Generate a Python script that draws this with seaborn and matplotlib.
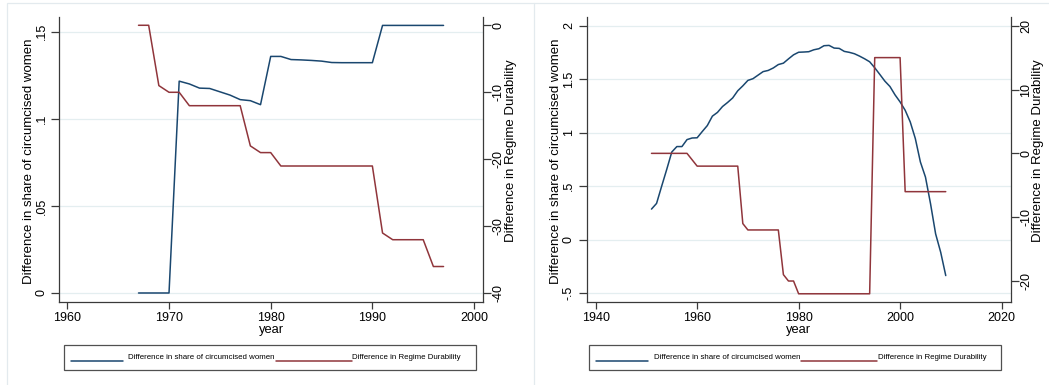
import matplotlib
matplotlib.use("Agg")
import matplotlib.pyplot as plt
import seaborn as sns
import pandas as pd
from matplotlib.patches import Rectangle
from matplotlib.lines import Line2D

# ---------------- data ----------------
years_left = list(range(1967, 1998))
share_left = [0.0, 0.0, 0.0, 0.0, 0.1216, 0.1200, 0.1176, 0.1174, 0.1155, 0.1136,
              0.1110, 0.1104, 0.1081, 0.1358, 0.1358, 0.1340, 0.1338, 0.1335, 0.1331,
              0.1323, 0.1322, 0.1322, 0.1322, 0.1322, 0.1536, 0.1536, 0.1536, 0.1536,
              0.1536, 0.1536, 0.1536]
durab_left = [0, 0, -9, -10, -10, -12, -12, -12, -12, -12, -12, -18, -19, -19, -21,
              -21, -21, -21, -21, -21, -21, -21, -21, -21, -31, -32, -32, -32, -32,
              -36, -36]

years_right = list(range(1951, 2010))
share_right = [0.287, 0.340, 0.500, 0.657, 0.820, 0.871, 0.871, 0.936, 0.951, 0.953,
               1.011, 1.067, 1.155, 1.190, 1.245, 1.283, 1.325, 1.392, 1.438, 1.489,
               1.505, 1.538, 1.571, 1.582, 1.605, 1.637, 1.650, 1.690, 1.728, 1.752,
               1.754, 1.757, 1.775, 1.785, 1.813, 1.816, 1.791, 1.788, 1.760, 1.751,
               1.738, 1.716, 1.691, 1.663, 1.607, 1.545, 1.482, 1.432, 1.354, 1.288,
               1.210, 1.101, 0.946, 0.727, 0.586, 0.337, 0.056, -0.116, -0.334]
durab_right = [0, 0, 0, 0, 0, 0, 0, 0, -1, -2, -2, -2, -2, -2, -2, -2, -2, -2, -11,
               -12, -12, -12, -12, -12, -12, -12, -19, -20, -20, -22, -22, -22, -22,
               -22, -22, -22, -22, -22, -22, -22, -22, -22, -22, -22, 15, 15, 15, 15,
               15, 15, -6, -6, -6, -6, -6, -6, -6, -6, -6]

left_yticks = [0, 0.05, 0.1, 0.15]
left_ylabels = ["0", ".05", ".1", ".15"]
left_y2ticks = [-40, -30, -20, -10, 0]
left_xticks = [1960, 1970, 1980, 1990, 2000]

right_yticks = [-0.5, 0, 0.5, 1, 1.5, 2]
right_ylabels = ["-.5", "0", ".5", "1", "1.5", "2"]
right_y2ticks = [-20, -10, 0, 10, 20]
right_xticks = [1940, 1960, 1980, 2000, 2020]

label_share = "Difference in share of circumcised women"
label_durab = "Difference in Regime Durability"
label_x = "year"

# ---------------- style ----------------
sns.set_theme(style="ticks")
plt.rcParams["font.family"] = ["Liberation Sans", "DejaVu Sans"]
BLUE = "#1a476f"
RED = "#90353b"
AXC = "#3a3a3a"
GRID = "#e4eef0"

W, H = 1049, 385
fig = plt.figure(figsize=(W / 100, H / 100), dpi=100)
fig.patch.set_facecolor("white")


def fx(x):
    return x / W


def fy(y):
    return 1 - y / H


# panel borders (graph combine look)
fig.add_artist(Rectangle((fx(7), fy(400)), fx(534) - fx(7), fy(3.3) - fy(400),
                         transform=fig.transFigure, fill=False, ec="#e3eaee", lw=0.9))
fig.add_artist(Line2D([fx(534), fx(1049)], [fy(3.3), fy(3.3)],
                      transform=fig.transFigure, color="#e3eaee", lw=0.9))


def make_panel(rect, years, share, durab, xlim, ylim, y2lim, xticks, yticks,
               ylabels, y2ticks, lab_l, lab_r):
    ax = fig.add_axes(rect)
    df = pd.DataFrame({"year": years, "share": share, "durab": durab})
    sns.lineplot(data=df, x="year", y="share", ax=ax, color=BLUE, linewidth=1.1)
    ax2 = ax.twinx()
    sns.lineplot(data=df, x="year", y="durab", ax=ax2, color=RED, linewidth=1.1)

    ax.set_xlim(*xlim)
    ax.set_ylim(*ylim)
    ax2.set_ylim(*y2lim)
    ax.set_xticks(xticks)
    ax.set_xticklabels([str(t) for t in xticks])
    ax.set_yticks(yticks)
    ax.set_yticklabels(ylabels)
    ax2.set_yticks(y2ticks)
    ax2.set_yticklabels([str(t) for t in y2ticks])

    ax.grid(axis="y", color=GRID, lw=0.9)
    ax.grid(axis="x", visible=False)
    ax2.grid(False)
    ax.set_axisbelow(True)

    for a in (ax, ax2):
        a.spines["top"].set_visible(False)
        for s in ("left", "right", "bottom"):
            a.spines[s].set_color(AXC)
            a.spines[s].set_linewidth(0.9)
    ax.spines["right"].set_visible(False)
    ax2.spines["left"].set_visible(False)
    ax2.spines["bottom"].set_visible(False)

    ax.tick_params(axis="x", direction="out", length=5, width=0.9, color=AXC,
                   labelsize=9, pad=2.5, labelcolor="black")
    ax.tick_params(axis="y", direction="out", length=6, width=0.9, color=AXC,
                   labelsize=9, pad=2.5, labelrotation=90, labelcolor="black")
    ax2.tick_params(axis="y", direction="out", length=6, width=0.9, color=AXC,
                    labelsize=9, pad=1.0, labelrotation=90, labelcolor="black")
    for t in ax.get_yticklabels():
        t.set_va("center")
    for t in ax2.get_yticklabels():
        t.set_va("center")

    ax.set_xlabel(label_x, fontsize=9.3, color="black")
    ax.xaxis.label.set_va("center")
    ax.xaxis.set_label_coords(0.5, -0.099)
    ax.set_ylabel(lab_l, fontsize=9.5, color="black")
    ax2.set_ylabel(lab_r, fontsize=9.5, color="black")
    return ax, ax2


axL = (59.3, 482.8)
axR = (586.7, 1010.7)
y_top, y_bot = 16.7, 301.7
pw = axL[1] - axL[0]

ax1, ax1b = make_panel([fx(axL[0]), fy(y_bot), fx(axL[1]) - fx(axL[0]), fy(y_top) - fy(y_bot)],
                       years_left, share_left, durab_left,
                       (1959.21, 2000.86), (-0.0050, 0.1586), (-41.25, 1.28),
                       left_xticks, left_yticks, left_ylabels, left_y2ticks,
                       label_share, label_durab)
ax2, ax2b = make_panel([fx(axR[0]), fy(y_bot), fx(axR[1]) - fx(axR[0]), fy(y_top) - fy(y_bot)],
                       years_right, share_right, durab_right,
                       (1938.23, 2021.8), (-0.578, 2.084), (-23.24, 21.41),
                       right_xticks, right_yticks, right_ylabels, right_y2ticks,
                       label_share, label_durab)

# y-label positions
for a, ab, (l, r) in ((ax1, ax1b, axL), (ax2, ax2b, axR)):
    w = r - l
    a.yaxis.set_label_coords((l - 30.6 - l) / w, 0.494)
    a.yaxis.label.set_va("center")
    ab.yaxis.set_label_position("right")
    ab.yaxis.set_label_coords((r + 27.8 - l) / w, 0.53)
    ab.yaxis.label.set_va("center")


def draw_legend(bl):
    fig.add_artist(Rectangle((fx(bl), fy(369.5)), 412 / W, (369.5 - 345) / H,
                             transform=fig.transFigure, fill=False, ec="#505050", lw=0.9))
    fig.add_artist(Line2D([fx(bl + 6.5), fx(bl + 58.7)], [fy(361), fy(361)],
                          transform=fig.transFigure, color=BLUE, lw=1.1))
    fig.text(fx(bl + 64.5), fy(357.3), label_share, ha="left", va="center",
             fontsize=5.7, color="black")
    fig.add_artist(Line2D([fx(bl + 212), fx(bl + 288)], [fy(361), fy(361)],
                          transform=fig.transFigure, color=RED, lw=1.1))
    fig.text(fx(bl + 288.5), fy(357.3), label_durab, ha="left", va="center",
             fontsize=5.7, color="black")


draw_legend(64)
draw_legend(589.3)

fig.savefig("out.png", dpi=100)
